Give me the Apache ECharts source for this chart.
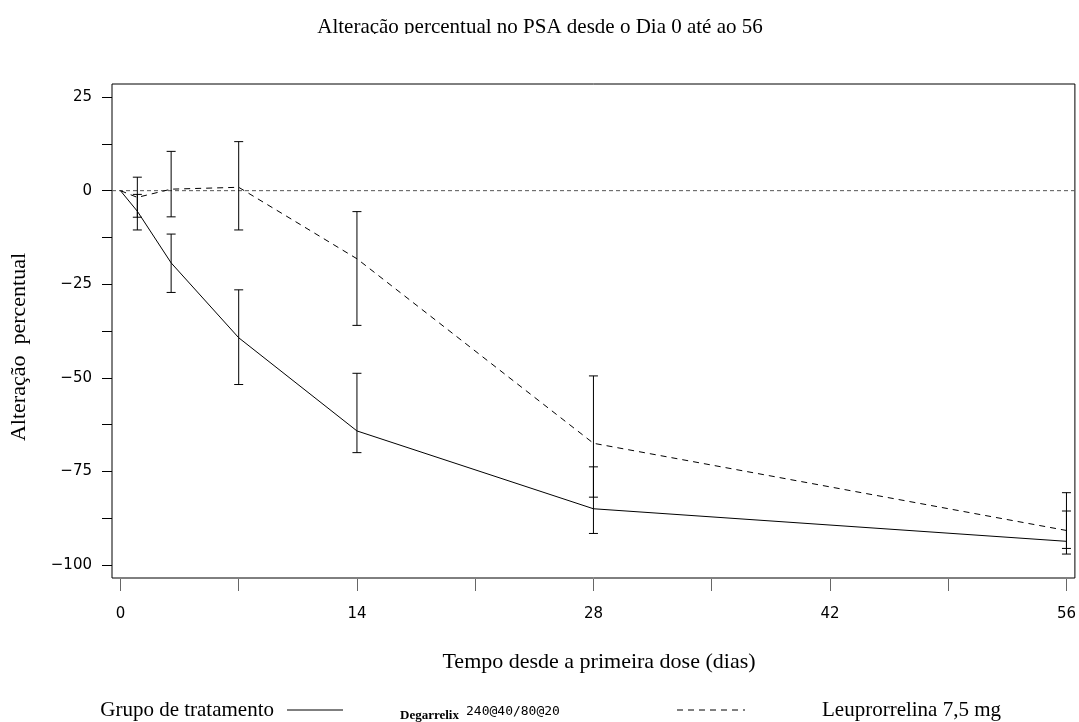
<!DOCTYPE html>
<html>
<head>
<meta charset="utf-8">
<script src="https://cdn.jsdelivr.net/npm/echarts@6/dist/echarts.min.js"></script>
<style>html,body{margin:0;padding:0;background:#fff}#c{width:1079px;height:722px}</style>
</head>
<body>
<div id="c"></div>
<script>
var days = [0, 1, 3, 7, 14, 28, 56];
var degMean  = [0, -5.5, -19.3, -39.3, -64.2, -85.0, -93.7];
var degLower = [null, -10.5, -27.2, -51.8, -70.0, -91.6, -97.1];
var degUpper = [null, -1.0, -11.6, -26.5, -48.8, -73.8, -85.6];
var leuMean  = [0, -1.8, 0.4, 0.9, -18.2, -67.5, -90.8];
var leuLower = [null, -7.1, -7.0, -10.5, -36.0, -81.9, -95.6];
var leuUpper = [null, 3.6, 10.5, 13.1, -5.6, -49.5, -80.7];
var xTickLabels = [0, 14, 28, 42, 56];
var xTicks = [0, 7, 14, 21, 28, 35, 42, 49, 56];
var yTickLabels = [25, 0, -25, -50, -75, -100];
var yTicks = [25, 12.5, 0, -12.5, -25, -37.5, -50, -62.5, -75, -87.5, -100];

function pairs(xs, ys) { return xs.map(function (x, i) { return [x, ys[i]]; }); }
function bars(xs, lo, hi) {
  var out = [];
  xs.forEach(function (x, i) { if (lo[i] !== null) out.push([x, lo[i], hi[i]]); });
  return out;
}
function errRender(params, api) {
  var x = api.value(0);
  var a = api.coord([x, api.value(2)]);
  var b = api.coord([x, api.value(1)]);
  var w = 4.5;
  var st = { stroke: '#000', lineWidth: 1 };
  return { type: 'group', children: [
    { type: 'line', shape: { x1: a[0], y1: a[1], x2: b[0], y2: b[1] }, style: st },
    { type: 'line', shape: { x1: a[0] - w, y1: a[1], x2: a[0] + w, y2: a[1] }, style: st },
    { type: 'line', shape: { x1: b[0] - w, y1: b[1], x2: b[0] + w, y2: b[1] }, style: st }
  ]};
}

var chart = echarts.init(document.getElementById('c'), null, { renderer: 'canvas' });
var serif = '"Liberation Serif", "Times New Roman", serif';
var sans = '"DejaVu Sans", "Liberation Sans", sans-serif';
chart.setOption({
  animation: false,
  backgroundColor: '#fff',
  grid: { left: 112, top: 84, width: 965, height: 494, show: true, borderColor: '#000', borderWidth: 1, containLabel: false },
  xAxis: {
    type: 'value', min: -0.5, max: 56.5, offset: 1, position: 'bottom',
    axisLine: { show: false, onZero: false },
    axisTick: { show: true, length: 12, lineStyle: { color: '#666' }, customValues: xTicks },
    axisLabel: { customValues: xTickLabels, margin: 28, fontFamily: sans, fontSize: 15, color: '#000' },
    splitLine: { show: false }
  },
  yAxis: {
    type: 'value', min: -103.5, max: 28.5, position: 'left',
    axisLine: { show: false, onZero: false },
    axisTick: { show: true, length: 10, lineStyle: { color: '#000' }, customValues: yTicks },
    axisLabel: { customValues: yTickLabels, margin: 20, fontFamily: sans, fontSize: 15, color: '#000',
      formatter: function (v) { return v < 0 ? '\u2212' + Math.abs(v) : String(v); } },
    splitLine: { show: false }
  },
  series: [
    { type: 'line', data: [[-0.5, 0], [56.5, 0]], symbol: 'none', silent: true,
      lineStyle: { color: '#555', width: 1, type: [4, 3] }, z: 1 },
    { type: 'line', name: 'Degarrelix', data: pairs(days, degMean), symbol: 'none',
      lineStyle: { color: '#000', width: 1, type: 'solid' }, z: 3 },
    { type: 'line', name: 'Leuprorrelina', data: pairs(days, leuMean), symbol: 'none',
      lineStyle: { color: '#000', width: 1, type: [6, 5] }, z: 3 },
    { type: 'custom', renderItem: errRender, data: bars(days, degLower, degUpper), encode: { x: 0, y: [1, 2] }, z: 4 },
    { type: 'custom', renderItem: errRender, data: bars(days, leuLower, leuUpper), encode: { x: 0, y: [1, 2] }, z: 4 }
  ],
  graphic: [
    { type: 'text', x: 540, y: 27, style: { text: 'Alteração percentual no PSA desde o Dia 0 até ao 56', font: '21px ' + serif, fill: '#000', textAlign: 'center', textVerticalAlign: 'middle' } },
    { type: 'rect', shape: { x: 0, y: 34, width: 1079, height: 12 }, style: { fill: '#fff' }, z: 100 },
    { type: 'text', x: 599, y: 662, style: { text: 'Tempo desde a primeira dose (dias)', font: '22px ' + serif, fill: '#000', textAlign: 'center', textVerticalAlign: 'middle' } },
    { type: 'text', x: 19, y: 347, rotation: Math.PI / 2, style: { text: 'Alteração  percentual', font: '22px ' + serif, fill: '#000', textAlign: 'center', textVerticalAlign: 'middle' } },
    { type: 'text', x: 274, y: 710, style: { text: 'Grupo de tratamento', font: '21px ' + serif, fill: '#000', textAlign: 'right', textVerticalAlign: 'middle' } },
    { type: 'line', shape: { x1: 287, y1: 710, x2: 343, y2: 710 }, style: { stroke: '#000', lineWidth: 1 } },
    { type: 'text', x: 400, y: 716, style: { text: 'Degarrelix', font: 'bold 13px ' + serif, fill: '#000', textAlign: 'left', textVerticalAlign: 'middle' } },
    { type: 'text', x: 466, y: 712, style: { text: '240@40/80@20', font: '13px "DejaVu Sans Mono", monospace', fill: '#000', textAlign: 'left', textVerticalAlign: 'middle' } },
    { type: 'line', shape: { x1: 677, y1: 710, x2: 745, y2: 710 }, style: { stroke: '#000', lineWidth: 1, lineDash: [6, 5] } },
    { type: 'text', x: 822, y: 710, style: { text: 'Leuprorrelina 7,5 mg', font: '21px ' + serif, fill: '#000', textAlign: 'left', textVerticalAlign: 'middle' } }
  ]
});
</script>
</body>
</html>
